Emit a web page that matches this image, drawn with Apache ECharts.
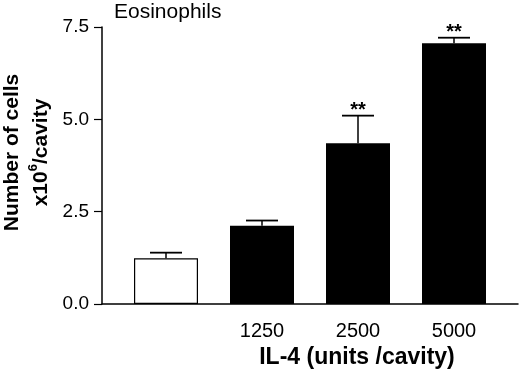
<!DOCTYPE html>
<html>
<head>
<meta charset="utf-8">
<script src="https://cdn.jsdelivr.net/npm/echarts@6/dist/echarts.min.js"></script>
<style>
  html, body { margin: 0; padding: 0; background: #fff; }
  #chart { width: 520px; height: 378px; }
</style>
</head>
<body>
<div id="chart"></div>
<script>
// IL-4 dose groups (first is control)
const doses = ['', '1250', '2500', '5000']
const means = [1.24, 2.12, 4.35, 7.06]
const errs = [0.15, 0.14, 0.75, 0.15]
const marks = ['', '', '**', '**']
const yTicks = [0, 2.5, 5, 7.5]

const font = '"Liberation Sans", Arial, sans-serif'

const barData = means.map((m, i) => ({
  value: [i, m],
  itemStyle: i === 0
    ? { color: '#fff', borderColor: '#000', borderWidth: 1.2 }
    : { color: '#000' },
}))

const errData = means.map((m, i) => [i, m, m + errs[i]])

const chart = echarts.init(document.getElementById('chart'))
chart.setOption({
  animation: false,
  backgroundColor: '#fff',
  grid: { left: 102, right: 2, top: 27, bottom: 74, containLabel: false, outerBoundsMode: 'none' },
  graphic: [{
    type: 'text',
    left: 114,
    top: 2,
    style: { text: 'Eosinophils', fontSize: 21, fontFamily: font, fill: '#000' },
  }],
  xAxis: {
    type: 'value',
    min: -2 / 3,
    max: 11 / 3,
    name: 'IL-4 (units /cavity)',
    nameLocation: 'middle',
    nameGap: 41,
    nameTextStyle: { color: '#000', fontSize: 23, fontWeight: 'bold', fontFamily: font, padding: [0, 0, 0, 94] },
    axisLine: { onZero: false, lineStyle: { color: '#000', width: 1.5 } },
    axisTick: { show: false },
    splitLine: { show: false },
    axisLabel: {
      customValues: [1, 2, 3],
      formatter: v => doses[Math.round(v)],
      color: '#000',
      fontSize: 20,
      fontFamily: font,
      margin: 17,
    },
  },
  yAxis: {
    type: 'value',
    min: 0,
    max: yTicks[yTicks.length - 1],
    interval: 2.5,
    name: '{a|Number of cells}\n{b|x10}{s|6}{b|/cavity}',
    nameLocation: 'middle',
    nameRotate: 90,
    nameGap: 43,
    nameTextStyle: {
      padding: [0, 0, 0, 26],
      rich: {
        a: { fontSize: 21, fontWeight: 'bold', fontFamily: font, color: '#000', lineHeight: 29 },
        b: { fontSize: 21, fontWeight: 'bold', fontFamily: font, color: '#000', lineHeight: 29 },
        s: { fontSize: 13, fontWeight: 'bold', fontFamily: font, color: '#000', verticalAlign: 'top', lineHeight: 29, padding: [0, 0, 12, 0] },
      },
    },
    axisLine: { show: true, onZero: false, lineStyle: { color: '#000', width: 1.5 } },
    axisTick: { show: true, length: 8, lineStyle: { color: '#000', width: 1.2 } },
    splitLine: { show: false },
    axisLabel: {
      formatter: v => v.toFixed(1),
      color: '#000',
      fontSize: 19,
      fontFamily: font,
      margin: 13,
    },
  },
  series: [
    {
      type: 'bar',
      data: barData,
      barWidth: 64,
    },
    {
      type: 'custom',
      clip: false,
      z: 5,
      data: errData,
      encode: { x: 0, y: [1, 2] },
      renderItem: (params, api) => {
        const i = api.value(0)
        const base = api.coord([i, api.value(1)])
        const top = api.coord([i, api.value(2)])
        const half = 16
        const children = [
          { type: 'line', shape: { x1: base[0], y1: base[1], x2: top[0], y2: top[1] }, style: { stroke: '#000', lineWidth: 1.5 } },
          { type: 'line', shape: { x1: top[0] - half, y1: top[1], x2: top[0] + half, y2: top[1] }, style: { stroke: '#000', lineWidth: 1.8 } },
        ]
        const m = marks[params.dataIndex]
        if (m) {
          children.push({
            type: 'text',
            style: {
              text: m, x: top[0], y: top[1] - 5,
              align: 'center', verticalAlign: 'middle',
              fontSize: 20, fontWeight: 'bold', fontFamily: font, fill: '#000',
            },
          })
        }
        return { type: 'group', children }
      },
    },
  ],
})
</script>
</body>
</html>
